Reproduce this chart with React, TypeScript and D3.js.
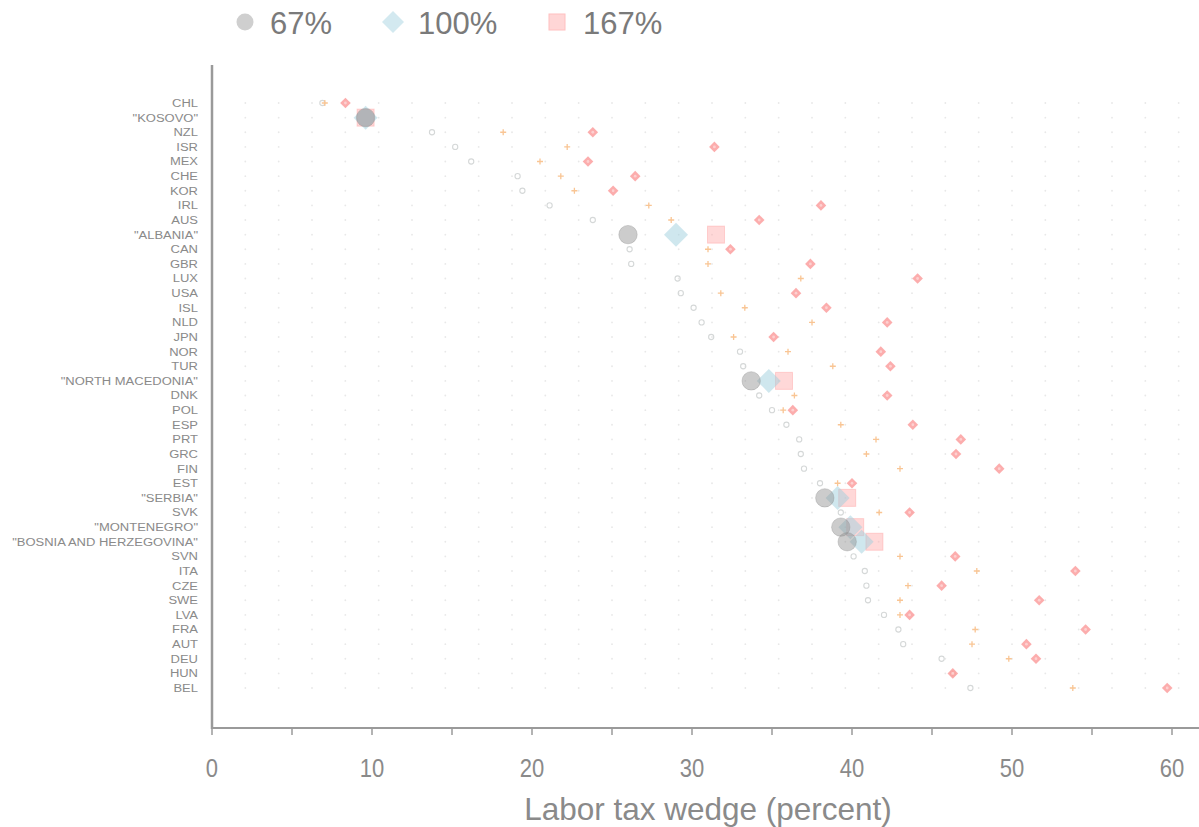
import React from "react";
import * as d3 from "d3";

const countries = ["CHL", "\"KOSOVO\"", "NZL", "ISR", "MEX", "CHE", "KOR", "IRL", "AUS", "\"ALBANIA\"", "CAN", "GBR", "LUX", "USA", "ISL", "NLD", "JPN", "NOR", "TUR", "\"NORTH MACEDONIA\"", "DNK", "POL", "ESP", "PRT", "GRC", "FIN", "EST", "\"SERBIA\"", "SVK", "\"MONTENEGRO\"", "\"BOSNIA AND HERZEGOVINA\"", "SVN", "ITA", "CZE", "SWE", "LVA", "FRA", "AUT", "DEU", "HUN", "BEL"];

const wage67 = [6.9, 9.6, 13.75, 15.2, 16.2, 19.1, 19.4, 21.1, 23.8, 26.0, 26.1, 26.2, 29.1, 29.3, 30.1, 30.6, 31.2, 33.0, 33.2, 33.7, 34.2, 35.0, 35.9, 36.7, 36.8, 37.0, 38.0, 38.3, 39.3, 39.3, 39.7, 40.1, 40.8, 40.9, 41.0, 42.0, 42.9, 43.2, 45.6, 46.3, 47.4];
const wage100 = [7.05, 9.6, 18.2, 22.2, 20.5, 21.8, 22.65, 27.3, 28.7, 29.0, 31.0, 31.0, 36.8, 31.8, 33.3, 37.5, 32.6, 36.0, 38.8, 34.8, 36.4, 35.7, 39.3, 41.5, 40.9, 43.0, 39.1, 39.1, 41.7, 39.9, 40.6, 43.0, 47.8, 43.5, 43.0, 43.0, 47.7, 47.5, 49.8, 46.3, 53.8];
const wage167 = [8.34, 9.6, 23.8, 31.4, 23.5, 26.45, 25.07, 38.06, 34.2, 31.5, 32.4, 37.4, 44.1, 36.5, 38.4, 42.2, 35.1, 41.8, 42.4, 35.75, 42.2, 36.3, 43.8, 46.8, 46.5, 49.2, 40.0, 39.7, 43.6, 40.2, 41.4, 46.45, 53.96, 45.6, 51.7, 43.6, 54.6, 50.9, 51.5, 46.3, 59.7];

const xTicks = [0, 5, 10, 15, 20, 25, 30, 35, 40, 45, 50, 55, 60];
const xTickLabels = [0, 10, 20, 30, 40, 50, 60];
const legendItems = ["67%", "100%", "167%"];
const gridStep = 25 / 12;

const W = 1199;
const H = 827;

export default function App() {
  const x = d3.scaleLinear().domain([0, 61.6875]).range([212, 1199]);
  const y = d3.scalePoint<string>().domain(countries).range([103, 688]);
  const isWB = (c: string) => c.startsWith("\"");

  const gridXs = d3.range(1, 30).map((k) => k * gridStep);
  const diamond = (cx: number, cy: number, r: number) =>
    `M${cx},${cy - r}L${cx + r},${cy}L${cx},${cy + r}L${cx - r},${cy}Z`;

  const font = "'Liberation Sans', Arial, sans-serif";

  return (
    <svg width={W} height={H} style={{ position: "absolute", left: 0, top: 0, background: "#fff" }} fontFamily={font}>
      {/* legend */}
      <g>
        <circle cx={245} cy={22} r={8.5} fill="#cfcfcf" />
        <text x={270} y={34} fontSize={31} fill="#7a7a7a">{legendItems[0]}</text>
        <path d={diamond(393, 22, 11)} fill="#d3e9f0" />
        <text x={418} y={34} fontSize={31} fill="#7a7a7a">{legendItems[1]}</text>
        <rect x={549} y={14} width={16} height={16} fill="#ffd6d6" stroke="#ffc0c0" />
        <text x={583} y={34} fontSize={31} fill="#7a7a7a">{legendItems[2]}</text>
      </g>

      {/* grid dots */}
      <g fill="#e8e8e8">
        {countries.map((c) =>
          gridXs.map((gx, i) => <circle key={c + i} cx={x(gx)} cy={y(c)} r={0.9} />)
        )}
      </g>

      {/* y labels */}
      <g transform="translate(198,0) scale(1.15,1) translate(-198,0)">
        {countries.map((c) => (
          <text key={c} x={198} y={(y(c) as number) + 4} fontSize={11.3} textAnchor="end" fill="#8a8a8a">
            {c}
          </text>
        ))}
      </g>

      {/* small OECD markers */}
      <g>
        {countries.map((c, i) => {
          if (isWB(c)) return null;
          const cy = y(c) as number;
          const x1 = x(wage67[i]);
          const x2 = x(wage100[i]);
          const x3 = x(wage167[i]);
          return (
            <g key={c}>
              <circle cx={x1} cy={cy} r={2.6} fill="none" stroke="#d5d8d8" strokeWidth={1.1} />
              <path d={`M${x2 - 3},${cy}H${x2 + 3}M${x2},${cy - 3}V${cy + 3}`} stroke="#f9c594" strokeWidth={1.3} />
              <path d={diamond(x3, cy, 5.3)} fill="#fb9f9f" fillOpacity={0.85} />
              <circle cx={x3} cy={cy} r={1.4} fill="#fdd0d0" />
            </g>
          );
        })}
      </g>

      {/* big Western Balkans markers */}
      <g>
        {countries.map((c, i) => {
          if (!isWB(c)) return null;
          const cy = y(c) as number;
          const x1 = x(wage67[i]);
          const x2 = x(wage100[i]);
          const x3 = x(wage167[i]);
          return (
            <g key={c}>
              <rect x={x3 - 8.5} y={cy - 8.5} width={17} height={17} fill="#ffa8a8" fillOpacity={0.45} stroke="#ff9a9a" strokeOpacity={0.4} />
              <path d={diamond(x2, cy, 12)} fill="#9fcfde" fillOpacity={0.5} />
              <circle cx={x1} cy={cy} r={9.2} fill="#8f8f8f" fillOpacity={0.45} stroke="#8f8f8f" strokeOpacity={0.35} />
            </g>
          );
        })}
      </g>

      {/* axes */}
      <line x1={212} x2={212} y1={65} y2={729} stroke="#9a9a9a" strokeWidth={2.5} />
      <line x1={211} x2={W} y1={728} y2={728} stroke="#9a9a9a" strokeWidth={2} />
      <g>
        {xTicks.map((t) => (
          <line key={t} x1={x(t)} x2={x(t)} y1={728} y2={735} stroke="#9a9a9a" strokeWidth={1.5} />
        ))}
      </g>
      <g>
        {xTickLabels.map((t) => (
          <text key={t} x={x(t)} y={777} fontSize={25} textAnchor="middle" fill="#8a8a8a"
            transform={`translate(${x(t)},0) scale(0.88,1) translate(${-x(t)},0)`}>
            {t}
          </text>
        ))}
      </g>
      <text x={708} y={820} fontSize={31.5} textAnchor="middle" fill="#8a8a8a">
        Labor tax wedge (percent)
      </text>
    </svg>
  );
}
